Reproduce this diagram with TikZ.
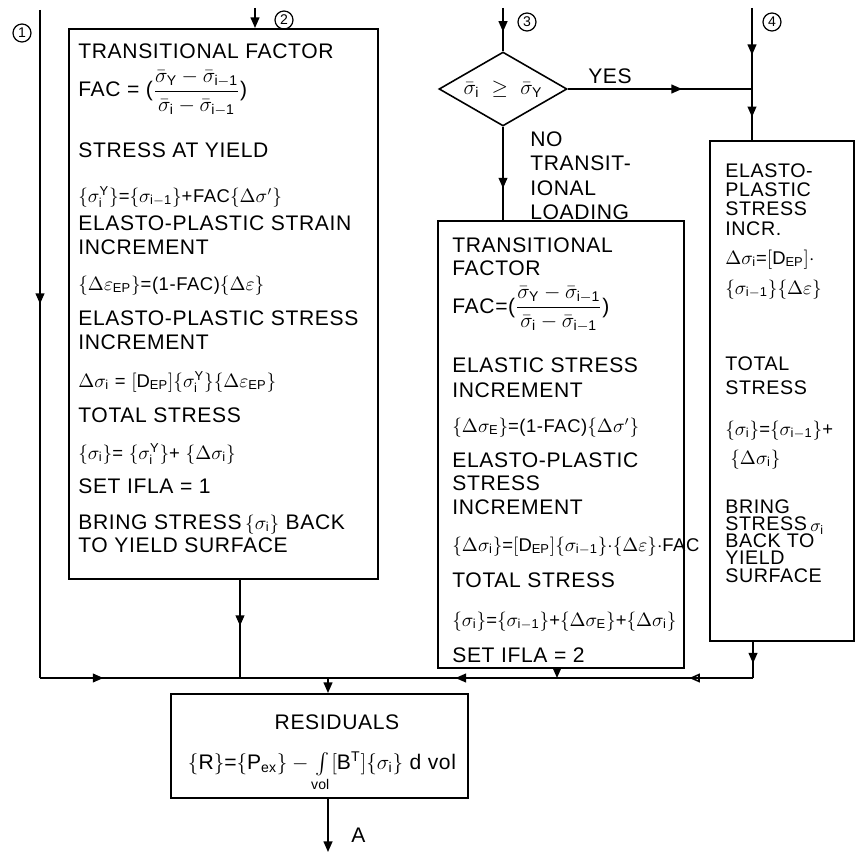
\documentclass[tikz,border=0pt]{standalone}
\usepackage{amsmath}
\usepackage{fontspec}
\setmainfont{Liberation Sans}[LetterSpace=3]
\usetikzlibrary{arrows.meta,positioning,shapes.geometric,decorations.markings}

\newcommand{\sgb}[1]{\bar{\sigma}_{\mathrm{#1}}}
\newcommand{\sgi}[1]{\sigma_{\mathrm{#1}}}
\newcommand{\dsg}[1]{\Delta\sigma_{\mathrm{#1}}}
\newcommand{\deps}{\Delta\varepsilon}
\newcommand{\DEP}{[\mathrm{D}_{\mathrm{EP}}]}

\begin{document}
\begin{tikzpicture}[x=0.2mm, y=-0.2mm,
  font=\fontsize{12}{14}\selectfont,
  blk/.style={draw, line width=0.9pt, anchor=north west, inner sep=0pt},
  txt/.style={anchor=base west, inner sep=0pt},
  eq/.style={txt, font=\fontsize{10.5}{12}\selectfont},
  nar/.style={txt, font=\fontsize{11.2}{12}\selectfont},
  tag/.style={draw, circle, inner sep=0pt, minimum size=3.6mm,
              line width=0.7pt, font=\fontsize{8}{8}\selectfont},
  flow/.style={line width=0.9pt},
  arr/.style={postaction={decorate, decoration={markings,
      mark=at position #1 with {\arrow{Triangle[width=5pt,length=6pt]}}}}},
  arro/.style={postaction={decorate, decoration={markings,
      mark=at position #1 with {\arrow{Triangle[open,width=5pt,length=6pt]}}}}},
  >={Triangle[width=5pt,length=6pt]}
]
\useasboundingbox (0,0) rectangle (855,857);

%--- boxes -----------------------------------------------------------------
\node[blk, minimum width=61.8mm, minimum height=110mm] (trans) at (68,28) {};
\node[blk, minimum width=49.2mm, minimum height=89.4mm] (elast) at (437,220) {};
\node[blk, minimum width=28.8mm, minimum height=100mm] (plast) at (709,140) {};
\node[blk, minimum width=59.4mm, minimum height=20.8mm] (resid) at (170,693) {};
\node[draw, diamond, aspect=1.7, line width=0.9pt, inner sep=0pt,
      minimum width=25.6mm, minimum height=14.8mm] (check) at (503,89)
  {$\sgb{i}\ \geq\ \sgb{Y}$};

%--- entry tags ------------------------------------------------------------
\node[tag] (n1) at (22,33) {1};
\node[tag] (n2) at (284,20) {2};
\node[tag] (n3) at (527,22) {3};
\node[tag] (n4) at (772,22) {4};

%--- box 1: transitional, over yield ---------------------------------------
\node[txt] (t1a) at (78,59) {TRANSITIONAL FACTOR};
\node[txt] (t1b) at (78,97) {FAC = ($\dfrac{\sgb{Y}-\sgb{i-1}}{\sgb{i}-\sgb{i-1}}$)};
\node[txt] (t1c) at (78,157) {STRESS AT YIELD};
\node[eq] (t1d) at (78,202) {$\{\sigma_{\mathrm{i}}^{\mathrm{Y}}\}$=$\{\sgi{i-1}\}$+FAC$\{\Delta\sigma'\}$};
\node[txt] (t1e) at (78,230) {ELASTO-PLASTIC STRAIN};
\node[txt] (t1f) at (78,254) {INCREMENT};
\node[eq] (t1g) at (78,290) {$\{\deps_{\mathrm{EP}}\}$=(1-FAC)$\{\deps\}$};
\node[txt] (t1h) at (78,325) {ELASTO-PLASTIC STRESS};
\node[txt] (t1i) at (78,349) {INCREMENT};
\node[eq] (t1j) at (78,387) {$\dsg{i}$ = $\DEP\{\sigma_{\mathrm{i}}^{\mathrm{Y}}\}\{\deps_{\mathrm{EP}}\}$};
\node[txt] (t1k) at (78,422) {TOTAL STRESS};
\node[eq] (t1l) at (78,459) {$\{\sgi{i}\}$= $\{\sigma_{\mathrm{i}}^{\mathrm{Y}}\}$+ $\{\dsg{i}\}$};
\node[txt] (t1m) at (78,493) {SET IFLA = 1};
\node[txt] (t1n) at (78,529) {BRING STRESS\,{\fontsize{10.5}{12}\selectfont$\{\sgi{i}\}$} BACK};
\node[txt] (t1o) at (78,552) {TO YIELD SURFACE};

%--- box 2: no transitional loading ----------------------------------------
\node[txt] (t2a) at (452,252) {TRANSITIONAL};
\node[txt] (t2b) at (452,275) {FACTOR};
\node[txt] (t2c) at (452,313) {FAC=($\dfrac{\sgb{Y}-\sgb{i-1}}{\sgb{i}-\sgb{i-1}}$)};
\node[txt] (t2d) at (452,372) {ELASTIC STRESS};
\node[txt] (t2e) at (452,397) {INCREMENT};
\node[eq] (t2f) at (452,432) {$\{\dsg{E}\}$=(1-FAC)$\{\Delta\sigma'\}$};
\node[txt] (t2g) at (452,467) {ELASTO-PLASTIC};
\node[txt] (t2h) at (452,490) {STRESS};
\node[txt] (t2i) at (452,514) {INCREMENT};
\node[eq] (t2j) at (452,551) {$\{\dsg{i}\}$=$\DEP\{\sgi{i-1}\}{\cdot}\{\deps\}{\cdot}$FAC};
\node[txt] (t2k) at (452,587) {TOTAL STRESS};
\node[eq] (t2l) at (452,626) {$\{\sgi{i}\}$=$\{\sgi{i-1}\}$+$\{\dsg{E}\}$+$\{\dsg{i}\}$};
\node[txt] (t2m) at (452,662) {SET IFLA = 2};

%--- box 3: elasto-plastic -------------------------------------------------
\node[nar] (t3a) at (725,177) {ELASTO-};
\node[nar] (t3b) at (725,196) {PLASTIC};
\node[nar] (t3c) at (725,215) {STRESS};
\node[nar] (t3d) at (725,235) {INCR.};
\node[eq] (t3e) at (725,264) {$\dsg{i}$=$\DEP{\cdot}$};
\node[eq] (t3f) at (725,294) {$\{\sgi{i-1}\}\{\deps\}$};
\node[nar] (t3g) at (725,370) {TOTAL};
\node[nar] (t3h) at (725,394) {STRESS};
\node[eq] (t3i) at (725,435) {$\{\sgi{i}\}$=$\{\sgi{i-1}\}$+};
\node[eq] (t3j) at (730,464) {$\{\dsg{i}\}$};
\node[nar] (t3k) at (725,513) {BRING};
\node[nar] (t3l) at (725,530) {STRESS\,\raisebox{-1pt}{\fontsize{10}{12}\selectfont$\sgi{i}$}};
\node[nar] (t3m) at (725,547) {BACK TO};
\node[nar] (t3n) at (725,564) {YIELD};
\node[nar] (t3o) at (725,582) {SURFACE};

%--- residuals -------------------------------------------------------------
\node[anchor=base, inner sep=0pt] (r1) at (337,729) {RESIDUALS};
\node[anchor=base, inner sep=0pt] (r2) at (322,769)
  {$\{$R$\}$=$\{$P$_{\mathrm{ex}}\}-\int\limits_{\mathrm{vol}}[$B$^{\mathrm{T}}]\{\sgi{i}\}$ d vol};

%--- labels ----------------------------------------------------------------
\node (yes) at (610,76) {YES};
\node[anchor=north west, align=left, inner sep=0pt] (nolbl) at (530,131)
  {NO\\TRANSIT-\\IONAL\\LOADING};

%--- flow lines ------------------------------------------------------------
\coordinate (in1) at (40,10);
\coordinate (in2) at (255,8);
\coordinate (in3) at (503,8);
\coordinate (in4) at (752,8);
\coordinate (j4) at (752,89);
\coordinate (jl) at (40,678);
\coordinate (jm) at (328,678);
\coordinate (jr) at (753,678);
\coordinate (m1) at (240,678);
\coordinate (m2) at (557,678);
\coordinate (out) at (328,852);

\draw[flow, arr=0.44] (in1) -- (jl);
\draw[flow, arr=0.22] (jl) -- (jm);
\draw[flow, arr=0.47] (trans.south -| m1) -- (m1);
\draw[flow, ->] (elast.south -| m2) -- (m2);
\draw[flow, arr=0.6] (plast.south -| jr) -- (jr);
\draw[flow, arro=0.15, arr=0.7] (jr) -- (jm);
\draw[flow, ->] (jm) -- (jm |- resid.north);
\draw[flow, ->] (jm |- resid.south) -- (out)
  node[pos=0.68, right=4.5mm, inner sep=0pt] (lblA) {A};

\draw[flow, ->] (in2) -- (in2 |- trans.north);
\draw[flow, arr=0.55] (in3) -- (check.north);
\draw[flow, arr=0.66] (check.south) -- (check.south |- elast.north);
\draw[flow, arr=0.62] (check.east) -- (j4);
\draw[flow, arr=0.58] (in4) -- (j4);
\draw[flow, arr=0.55] (j4) -- (j4 |- plast.north);

\end{tikzpicture}
\end{document}
